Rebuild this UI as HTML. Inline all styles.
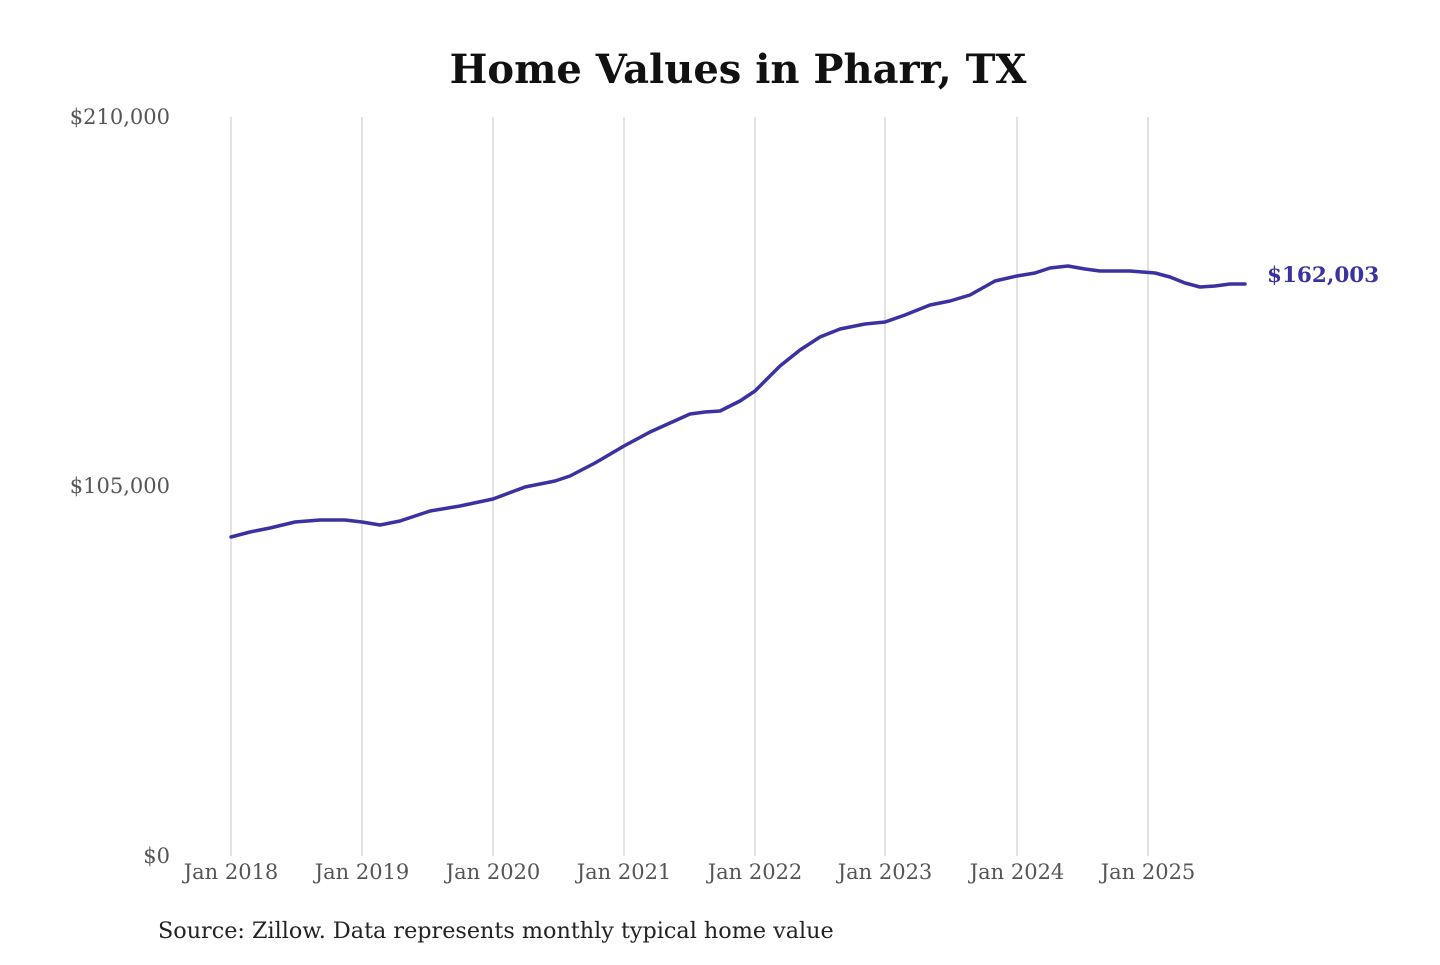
<!DOCTYPE html>
<html><head><style>
body{margin:0;background:#fff;width:1440px;height:960px;overflow:hidden}
svg text{font-family:"DejaVu Serif","Liberation Serif",serif}
</style></head><body>
<svg width="1440" height="960" viewBox="0 0 1440 960">
<text x="738" y="83" text-anchor="middle" font-size="40" font-weight="bold" fill="#111">Home Values in Pharr, TX</text>
<g stroke="#c4c4c4" stroke-width="1">
<line x1="231" y1="117" x2="231" y2="856"/><line x1="362" y1="117" x2="362" y2="856"/>
<line x1="493" y1="117" x2="493" y2="856"/><line x1="624" y1="117" x2="624" y2="856"/>
<line x1="755" y1="117" x2="755" y2="856"/><line x1="885" y1="117" x2="885" y2="856"/>
<line x1="1017" y1="117" x2="1017" y2="856"/><line x1="1148" y1="117" x2="1148" y2="856"/>
</g>
<g font-size="21" fill="#555" text-anchor="end">
<text x="170" y="124">$210,000</text><text x="170" y="493">$105,000</text><text x="170" y="863">$0</text>
</g>
<g font-size="21" fill="#555" text-anchor="middle">
<text x="231" y="879">Jan 2018</text><text x="362" y="879">Jan 2019</text><text x="493" y="879">Jan 2020</text>
<text x="624" y="879">Jan 2021</text><text x="755" y="879">Jan 2022</text><text x="885" y="879">Jan 2023</text>
<text x="1017" y="879">Jan 2024</text><text x="1148" y="879">Jan 2025</text>
</g>
<polyline fill="none" stroke="#3a32a0" stroke-width="3.5" stroke-linejoin="round" stroke-linecap="round" points="231,537 250,532 270,528 295,522 320,520 345,520 362,522 380,525 400,521 430,511 460,506 493,499 525,487 555,481 570,476 595,463 624,446 650,432 670,423 690,414 705,412 720,411 740,401 755,391 780,366 800,350 820,337 840,329 865,324 885,322 905,315 930,305 950,301 970,295 995,281 1017,276 1035,273 1050,268 1068,266 1085,269 1100,271 1130,271 1155,273 1170,277 1185,283 1200,287 1215,286 1230,284 1245,284"/>
<text x="1267" y="282" font-size="21.5" font-weight="bold" fill="#3a32a0">$162,003</text>
<text x="158" y="938" font-size="22.3" fill="#222">Source: Zillow. Data represents monthly typical home value</text>
</svg>
</body></html>
